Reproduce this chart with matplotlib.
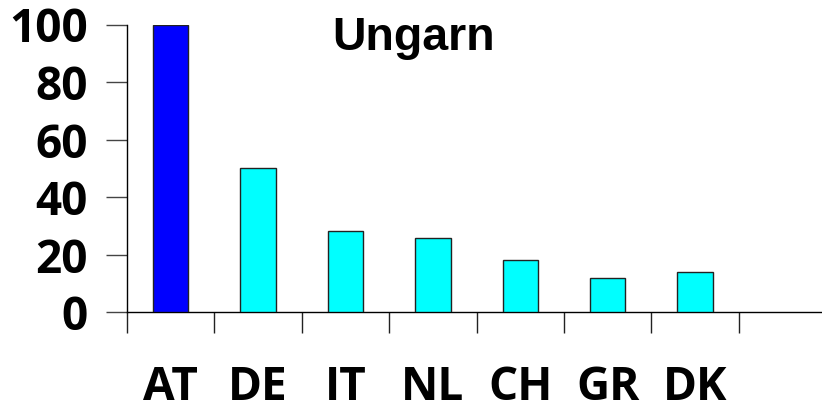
import matplotlib
matplotlib.use("Agg")
import matplotlib.pyplot as plt
import numpy as np

categories = ["AT", "DE", "IT", "NL", "CH", "GR", "DK"]
values = [100, 50.2, 28.1, 25.7, 18.1, 11.8, 14.1]
colors = ["#0000FF"] + ["#00FFFF"] * 6
yticks = [0, 20, 40, 60, 80, 100]
title = "Ungarn"

fig = plt.figure(figsize=(8.22, 4.08), dpi=100)
ax = fig.add_axes([127/822, 95.7/408, 695/822, 287.8/408])

x = np.arange(len(categories))
ax.bar(x, values, width=0.404, color=colors, edgecolor="#222222", linewidth=1.0, zorder=3)

ax.set_xlim(-0.5, 7.452)
ax.set_ylim(0, 100)
for s in ["top", "right"]:
    ax.spines[s].set_visible(False)
for s in ["left", "bottom"]:
    ax.spines[s].set_linewidth(1.0)
    ax.spines[s].set_color("black")

ax.set_yticks(yticks)
ax.set_yticklabels([str(v) for v in yticks], fontfamily="Open Sans", fontweight="bold", fontsize=33)
ax.tick_params(axis="y", length=15, width=1, pad=13, color="#444444")

ax.set_xticks(x)
ax.set_xticklabels(categories, fontfamily="Open Sans", fontweight="bold", fontsize=33)
ax.tick_params(axis="x", which="major", length=0, pad=37)
ax.set_xticks(np.arange(-0.5, 7.0, 1.0), minor=True)
ax.tick_params(axis="x", which="minor", length=15, width=1, color="#222222")

fig.text(414/822, 1 - 50/408, title, fontfamily="Liberation Sans", fontweight="bold",
         fontsize=33.5, ha="center", va="baseline")

fig.savefig("out.png", dpi=100)
